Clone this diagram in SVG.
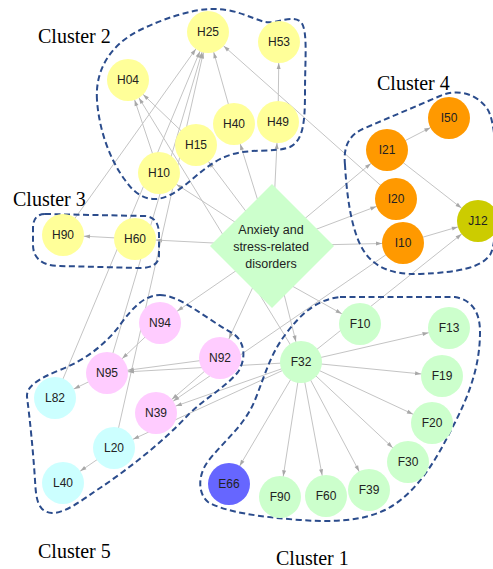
<svg xmlns="http://www.w3.org/2000/svg" width="493" height="569" viewBox="0 0 493 569">
<style>
.e line{stroke:#c4c4c4;stroke-width:1;fill:none;marker-end:url(#arr)}
.c{fill:none;stroke:#2b4c8c;stroke-width:2;stroke-dasharray:6 3.5}
.n text{font-family:"Liberation Sans",Arial,sans-serif;font-size:12px;text-anchor:middle;fill:#222}
.y{fill:#ffff99}.o{fill:#ff9900}.g{fill:#ccffcc}.p{fill:#ffccff}.b{fill:#ccffff}
.cl{font-family:"Liberation Serif","Times New Roman",serif;font-size:20px;fill:#000}
</style>
<defs>
<marker id="arr" markerUnits="userSpaceOnUse" markerWidth="30" markerHeight="6" refX="27" refY="2.5" orient="auto" overflow="visible">
<path d="M0,0.5 L6,2.5 L0,4.5 z" fill="#a8a8a8"/>
</marker>
</defs>
<rect width="493" height="569" fill="#fff"/>
<g id="connectors" class="e">
<line x1="272" y1="246" x2="159" y2="173"/>
<line x1="272" y1="246" x2="196" y2="145"/>
<line x1="272" y1="246" x2="234" y2="124"/>
<line x1="272" y1="246" x2="278" y2="122"/>
<line x1="272" y1="246" x2="135" y2="239"/>
<line x1="272" y1="246" x2="387" y2="150"/>
<line x1="272" y1="246" x2="396" y2="199"/>
<line x1="272" y1="246" x2="403" y2="243"/>
<line x1="285" y1="282" x2="360" y2="324"/>
<line x1="272" y1="246" x2="301" y2="362"/>
<line x1="272" y1="246" x2="220" y2="358"/>
<line x1="272" y1="246" x2="160" y2="323"/>
<line x1="234" y1="124" x2="208" y2="32"/>
<line x1="278" y1="122" x2="279" y2="42"/>
<line x1="135" y1="239" x2="63" y2="235"/>
<line x1="159" y1="173" x2="128" y2="80"/>
<line x1="196" y1="145" x2="128" y2="80"/>
<line x1="63" y1="235" x2="208" y2="32"/>
<line x1="55" y1="398" x2="208" y2="32"/>
<line x1="107" y1="373" x2="208" y2="32"/>
<line x1="114" y1="448" x2="208" y2="32"/>
<line x1="396" y1="199" x2="208" y2="32"/>
<line x1="387" y1="150" x2="449" y2="118"/>
<line x1="387" y1="150" x2="478" y2="221"/>
<line x1="403" y1="243" x2="478" y2="221"/>
<line x1="301" y1="362" x2="478" y2="221"/>
<line x1="403" y1="243" x2="156" y2="413"/>
<line x1="160" y1="323" x2="107" y2="373"/>
<line x1="220" y1="358" x2="107" y2="373"/>
<line x1="301" y1="362" x2="107" y2="373"/>
<line x1="107" y1="373" x2="55" y2="398"/>
<line x1="220" y1="358" x2="156" y2="413"/>
<line x1="301" y1="362" x2="156" y2="413"/>
<line x1="301" y1="362" x2="114" y2="448"/>
<line x1="114" y1="448" x2="63" y2="483"/>
<line x1="301" y1="362" x2="449" y2="328"/>
<line x1="301" y1="362" x2="442" y2="376"/>
<line x1="301" y1="362" x2="432" y2="423"/>
<line x1="301" y1="362" x2="408" y2="462"/>
<line x1="301" y1="362" x2="369" y2="490"/>
<line x1="301" y1="362" x2="326" y2="496"/>
<line x1="301" y1="362" x2="280" y2="497"/>
<line x1="301" y1="362" x2="229" y2="484"/>
<line x1="301" y1="362" x2="128" y2="80"/>
</g>
<g id="clusters">
<path class="c" d="M97,100 C95,70 110,45 140,30 C165,18 190,10 210,9 C235,8 250,18 265,22 C278,24 292,14 301,22 C308,30 305,60 305,90 C305,120 304,140 290,147 C275,153 250,148 230,155 C205,163 190,185 170,195 C150,205 135,195 125,180 C110,160 99,130 97,100 Z"/>
<path class="c" d="M45,214 L145,216 C156,217 159,225 159,235 L159,255 C159,264 152,268 140,268 L60,266 C42,266 33,258 33,245 L33,228 C33,219 37,214 45,214 Z"/>
<path class="c" d="M345,165 C343,145 350,134 365,128 L440,96 C458,88 478,94 488,110 C500,130 500,240 490,255 C480,268 460,272 420,274 C390,275 372,266 362,248 C352,230 347,200 345,165 Z"/>
<path class="c" d="M160,295 C180,295 205,318 232,333 C246,341 246,360 238,372 C225,388 205,398 188,415 C165,440 130,468 100,488 C82,500 66,513 52,513 C38,512 36,500 35,480 C33,450 30,420 27,397 C26,386 40,378 60,370 C85,360 105,345 120,325 C133,307 145,295 160,295 Z"/>
<path class="c" d="M340,297 L455,297 C472,300 480,312 480,332 C480,365 470,395 450,432 C435,462 415,495 385,510 C360,522 330,522 300,520 C260,517 225,512 208,502 C198,494 197,475 209,460 C225,440 245,425 255,400 C265,375 270,355 285,335 C300,315 315,300 340,297 Z"/>
</g>
<g id="D" class="n">
<polygon points="272,184 334,246 272,308 210,246" fill="#ccffcc"/>
<text x="271" y="234" style="font-size:12.5px">Anxiety and</text>
<text x="271" y="251" style="font-size:12.5px">stress-related</text>
<text x="271" y="268" style="font-size:12.5px">disorders</text>
</g>
<g id="H25" class="n"><circle cx="208" cy="32" r="21" class="y"/><text x="208" y="36">H25</text></g>
<g id="H53" class="n"><circle cx="279" cy="42" r="21" class="y"/><text x="279" y="46">H53</text></g>
<g id="H04" class="n"><circle cx="128" cy="80" r="21" class="y"/><text x="128" y="84">H04</text></g>
<g id="H40" class="n"><circle cx="234" cy="124" r="21" class="y"/><text x="234" y="128">H40</text></g>
<g id="H49" class="n"><circle cx="278" cy="122" r="21" class="y"/><text x="278" y="126">H49</text></g>
<g id="H15" class="n"><circle cx="196" cy="145" r="21" class="y"/><text x="196" y="149">H15</text></g>
<g id="H10" class="n"><circle cx="159" cy="173" r="21" class="y"/><text x="159" y="177">H10</text></g>
<g id="H90" class="n"><circle cx="63" cy="235" r="21" class="y"/><text x="63" y="239">H90</text></g>
<g id="H60" class="n"><circle cx="135" cy="239" r="21" class="y"/><text x="135" y="243">H60</text></g>
<g id="I50" class="n"><circle cx="449" cy="118" r="21" class="o"/><text x="449" y="122">I50</text></g>
<g id="I21" class="n"><circle cx="387" cy="150" r="21" class="o"/><text x="387" y="154">I21</text></g>
<g id="I20" class="n"><circle cx="396" cy="199" r="21" class="o"/><text x="396" y="203">I20</text></g>
<g id="I10" class="n"><circle cx="403" cy="243" r="21" class="o"/><text x="403" y="247">I10</text></g>
<g id="J12" class="n"><circle cx="478" cy="221" r="21" fill="#cccc00"/><text x="478" y="225">J12</text></g>
<g id="N94" class="n"><circle cx="160" cy="323" r="21" class="p"/><text x="160" y="327">N94</text></g>
<g id="N92" class="n"><circle cx="220" cy="358" r="21" class="p"/><text x="220" y="362">N92</text></g>
<g id="N95" class="n"><circle cx="107" cy="373" r="21" class="p"/><text x="107" y="377">N95</text></g>
<g id="N39" class="n"><circle cx="156" cy="413" r="21" class="p"/><text x="156" y="417">N39</text></g>
<g id="L82" class="n"><circle cx="55" cy="398" r="21" class="b"/><text x="55" y="402">L82</text></g>
<g id="L20" class="n"><circle cx="114" cy="448" r="21" class="b"/><text x="114" y="452">L20</text></g>
<g id="L40" class="n"><circle cx="63" cy="483" r="21" class="b"/><text x="63" y="487">L40</text></g>
<g id="F10" class="n"><circle cx="360" cy="324" r="21" class="g"/><text x="360" y="328">F10</text></g>
<g id="F13" class="n"><circle cx="449" cy="328" r="21" class="g"/><text x="449" y="332">F13</text></g>
<g id="F32" class="n"><circle cx="301" cy="362" r="21" class="g"/><text x="301" y="366">F32</text></g>
<g id="F19" class="n"><circle cx="442" cy="376" r="21" class="g"/><text x="442" y="380">F19</text></g>
<g id="F20" class="n"><circle cx="432" cy="423" r="21" class="g"/><text x="432" y="427">F20</text></g>
<g id="F30" class="n"><circle cx="408" cy="462" r="21" class="g"/><text x="408" y="466">F30</text></g>
<g id="F39" class="n"><circle cx="369" cy="490" r="21" class="g"/><text x="369" y="494">F39</text></g>
<g id="F60" class="n"><circle cx="326" cy="496" r="21" class="g"/><text x="326" y="500">F60</text></g>
<g id="F90" class="n"><circle cx="280" cy="497" r="21" class="g"/><text x="280" y="501">F90</text></g>
<g id="E66" class="n"><circle cx="229" cy="484" r="21" fill="#6666ff"/><text x="229" y="488">E66</text></g>
<g id="labels">
<text class="cl" x="38" y="43">Cluster 2</text>
<text class="cl" x="13" y="206">Cluster 3</text>
<text class="cl" x="377" y="90">Cluster 4</text>
<text class="cl" x="38" y="558">Cluster 5</text>
<text class="cl" x="276" y="565">Cluster 1</text>
</g>
</svg>
